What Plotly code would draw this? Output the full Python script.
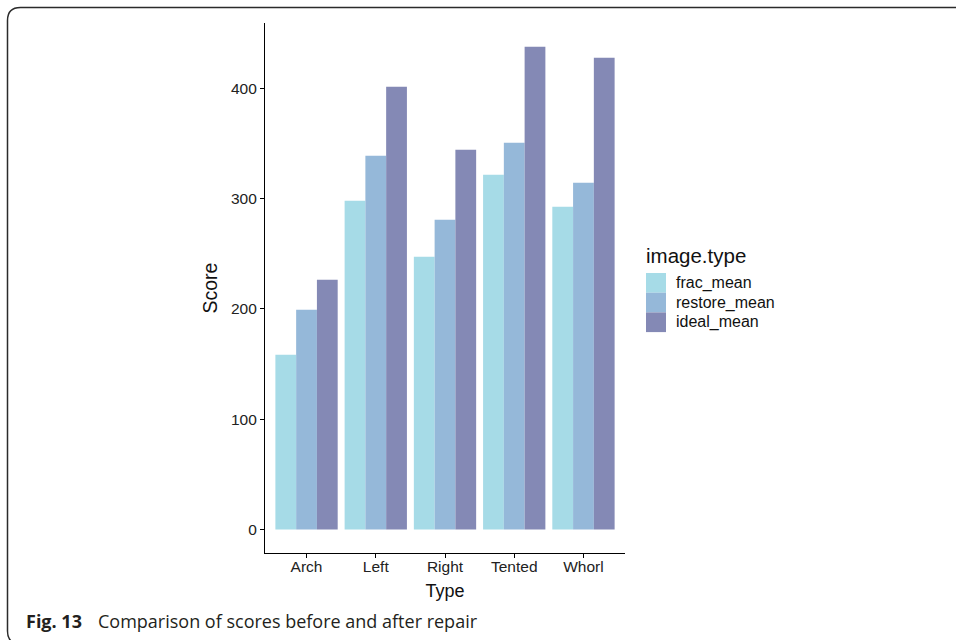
import plotly.graph_objects as go

categories = ["Arch", "Left", "Right", "Tented", "Whorl"]
series_names = ["frac_mean", "restore_mean", "ideal_mean"]
frac_mean = [158.3, 298.1, 247.3, 321.7, 292.6]
restore_mean = [199.2, 339.0, 280.9, 350.6, 314.4]
ideal_mean = [226.4, 401.5, 344.4, 437.8, 427.8]
series_values = [frac_mean, restore_mean, ideal_mean]
colors = ["#A6DBE7", "#95B8D9", "#8489B5"]
y_ticks = [0, 100, 200, 300, 400]

W, H = 956, 640
L, R, T, B = 265, 625, 23, 553

def px(x):
    return (x - L) / (R - L)

def py(y):
    return (B - y) / (B - T)

fig = go.Figure()
for name, vals, col in zip(series_names, series_values, colors):
    fig.add_trace(go.Bar(x=categories, y=vals, name=name, marker=dict(color=col, line=dict(width=0)),
                         showlegend=False))

axis_font = dict(family="Liberation Sans, Arial", size=15.5, color="#222222")
fig.update_layout(
    width=W, height=H,
    margin=dict(l=L, r=W - R, t=T, b=H - B, autoexpand=False),
    paper_bgcolor="white", plot_bgcolor="white",
    barmode="group", bargap=0.1, bargroupgap=0,
    font=dict(family="Liberation Sans, Arial", color="#222222"),
    xaxis=dict(range=[-0.6, 4.6], showline=True, linecolor="black", linewidth=1.2,
               ticks="outside", ticklen=4, tickcolor="black", tickwidth=1.2,
               tickfont=axis_font, showgrid=False, zeroline=False, ticklabelstandoff=-5,
               title=dict(text="Type", font=dict(family="Liberation Sans, Arial", size=18, color="#111"), standoff=10)),
    yaxis=dict(range=[-21.4, 459.3], showline=True, linecolor="black", linewidth=1.2,
               ticks="outside", ticklen=4, tickcolor="black", tickwidth=1.2,
               tickvals=y_ticks, tickfont=axis_font, showgrid=False, zeroline=False,
               title=dict(text="Score", font=dict(family="Liberation Sans, Arial", size=19.5, color="#111"), standoff=8)),
)

# manual legend
fig.add_annotation(xref="paper", yref="paper", x=px(644), y=py(255), xanchor="left", yanchor="middle",
                   text="image.type", showarrow=False,
                   font=dict(family="Liberation Sans, Arial", size=20.5, color="#111"))
key_top = 273
key_h = 19.7
for i, (name, col) in enumerate(zip(series_names, colors)):
    y0 = key_top + i * key_h
    fig.add_shape(type="rect", xref="paper", yref="paper", x0=px(646), x1=px(666),
                  y0=py(y0), y1=py(y0 + key_h), fillcolor=col, line=dict(width=0))
    fig.add_annotation(xref="paper", yref="paper", x=px(674), y=py(y0 + key_h / 2), xanchor="left",
                       yanchor="middle", text=name, showarrow=False,
                       font=dict(family="Liberation Sans, Arial", size=16, color="#111"))

# figure frame (rounded left corners)
fx, fy, r = 7.5, 7.5, 13
fb = H + 4
path = (f"M {px(fx + r)},{py(fb)} Q {px(fx)},{py(fb)} {px(fx)},{py(fb - r)} "
        f"L {px(fx)},{py(fy + r)} "
        f"Q {px(fx)},{py(fy)} {px(fx + r)},{py(fy)} L {px(W + 5)},{py(fy)}")
fig.add_shape(type="path", xref="paper", yref="paper", path=path,
              line=dict(color="#2b2b2b", width=1.5))

# caption
fig.add_annotation(xref="paper", yref="paper", x=px(24), y=py(621), xanchor="left", yanchor="middle",
                   text="<b>Fig. 13</b>", showarrow=False,
                   font=dict(family="Open Sans", size=18, color="#231f20"))
fig.add_annotation(xref="paper", yref="paper", x=px(96), y=py(621), xanchor="left", yanchor="middle",
                   text="Comparison of scores before and after repair", showarrow=False,
                   font=dict(family="Open Sans", size=18, color="#231f20"))

fig.write_html("out.html", config={"displayModeBar": False},
               post_script="document.body.style.margin='0px';document.body.style.overflow='hidden';")
